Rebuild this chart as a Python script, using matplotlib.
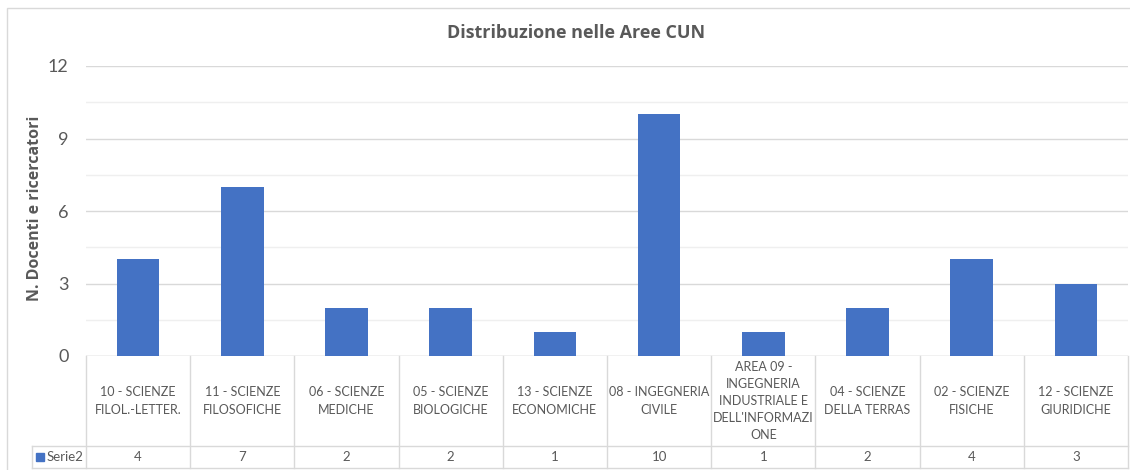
import matplotlib
matplotlib.use("Agg")
import matplotlib.pyplot as plt
from matplotlib.transforms import blended_transform_factory
from matplotlib.patches import Rectangle
import numpy as np

# ------------------------------------------------------------
# DATA
# ------------------------------------------------------------
categories = [
    "10 - SCIENZE\nFILOL.-LETTER.",
    "11 - SCIENZE\nFILOSOFICHE",
    "06 - SCIENZE\nMEDICHE",
    "05 - SCIENZE\nBIOLOGICHE",
    "13 - SCIENZE\nECONOMICHE",
    "08 - INGEGNERIA\nCIVILE",
    "AREA 09 -\nINGEGNERIA\nINDUSTRIALE E\nDELL'INFORMAZI\nONE",
    "04 - SCIENZE\nDELLA TERRAS",
    "02 - SCIENZE\nFISICHE",
    "12 - SCIENZE\nGIURIDICHE",
]
values = [4, 7, 2, 2, 1, 10, 1, 2, 4, 3]
series_name = "Serie2"
y_ticks = [0, 3, 6, 9, 12]

# ------------------------------------------------------------
# STYLE
# ------------------------------------------------------------
plt.rcParams["font.family"] = ["Lato", "DejaVu Sans"]
BOLD_FONT = ["Open Sans", "DejaVu Sans"]
BAR_COLOR = "#4472C4"
TEXT_COLOR = "#595959"
GRID_MAJOR = "#d9d9d9"
GRID_MINOR = "#efefef"

W, H = 1130, 470
fig = plt.figure(figsize=(W / 100, H / 100), dpi=100)

# outer chart border
fig.patches.append(Rectangle((7 / W, -0.01), 1.2, (H - 8) / H + 0.01,
                             transform=fig.transFigure, fill=False,
                             edgecolor="#d9d9d9", linewidth=1.0))

left, right = 86 / W, 1128 / W
bottom, top = (H - 356) / H, (H - 66) / H
ax = fig.add_axes([left, bottom, right - left, top - bottom])

x = np.arange(len(categories))
ax.bar(x, values, width=0.41, color=BAR_COLOR, zorder=3)

ax.set_xlim(-0.5, len(categories) - 0.5)
ax.set_ylim(0, 12)
ax.set_yticks(y_ticks)
ax.set_yticks(np.arange(0, 12.1, 1.5), minor=True)
ax.tick_params(axis="y", which="both", length=0, labelsize=13,
               labelcolor=TEXT_COLOR, pad=12.5)
ax.set_xticks([])
ax.grid(axis="y", which="major", color=GRID_MAJOR, linewidth=1.0, zorder=0)
ax.grid(axis="y", which="minor", color=GRID_MINOR, linewidth=1.0, zorder=0)
for s in ax.spines.values():
    s.set_visible(False)
ax.axhline(0, color=GRID_MAJOR, linewidth=1.0, zorder=2)

fig.text(35 / W, (H - 208) / H, "N. Docenti e ricercatori", rotation=90,
         ha="center", va="center", fontsize=11.5, fontweight="bold",
         color=TEXT_COLOR, family=BOLD_FONT)
fig.text(576 / W, (H - 33) / H, "Distribuzione nelle Aree CUN",
         ha="center", va="center", fontsize=13, fontweight="bold",
         color=TEXT_COLOR, family=BOLD_FONT)

# ------------------------------------------------------------
# DATA TABLE
# ------------------------------------------------------------
ax_h = 356 - 66
row_top = -(446 - 356) / ax_h
row_bot = -(468 - 356) / ax_h
trans = blended_transform_factory(ax.transData, ax.transAxes)

for b in np.arange(-0.5, len(categories), 1.0):
    ax.plot([b, b], [0, row_bot], transform=trans, color=GRID_MAJOR,
            linewidth=1.0, clip_on=False)

unit = (1128 - 86) / len(categories)
x_leg = -0.5 - (86 - 32) / unit
for yy in (row_top, row_bot):
    ax.plot([x_leg, len(categories) - 0.5], [yy, yy], transform=trans,
            color=GRID_MAJOR, linewidth=1.0, clip_on=False)
ax.plot([x_leg, x_leg], [row_top, row_bot], transform=trans,
        color=GRID_MAJOR, linewidth=1.0, clip_on=False)

for i, (cat, v) in enumerate(zip(categories, values)):
    ax.text(i, -(401 - 356) / ax_h, cat, transform=trans, ha="center",
            va="center", fontsize=9, color=TEXT_COLOR, linespacing=1.5)
    ax.text(i, (row_top + row_bot) / 2, str(v), transform=trans,
            ha="center", va="center", fontsize=9.5, color=TEXT_COLOR)

# legend key in table
ax.add_patch(Rectangle((-0.5 - (86 - 36) / unit, -(453 - 356) / ax_h),
                       8 / unit, -8 / ax_h, transform=trans,
                       color=BAR_COLOR, clip_on=False))
ax.text(-0.5 - (86 - 47) / unit, (row_top + row_bot) / 2, series_name,
        transform=trans, ha="left", va="center", fontsize=9.5,
        color=TEXT_COLOR)

fig.savefig("out.png", dpi=100)
